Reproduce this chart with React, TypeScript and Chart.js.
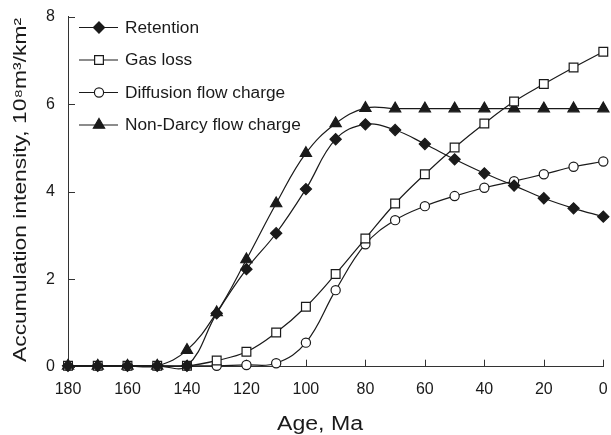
import React, { useEffect, useRef } from "react";
import { Chart, registerables } from "chart.js";

Chart.register(...registerables);

const ages = [180, 170, 160, 150, 140, 130, 120, 110, 100, 90, 80, 70, 60, 50, 40, 30, 20, 10, 0];
const retention = [0.02, 0.02, 0.02, 0.02, 0.02, 1.22, 2.23, 3.05, 4.06, 5.2, 5.54, 5.41, 5.09, 4.74, 4.42, 4.14, 3.85, 3.62, 3.43];
const gasLoss = [0.02, 0.02, 0.02, 0.02, 0.02, 0.14, 0.34, 0.78, 1.37, 2.12, 2.93, 3.73, 4.4, 5.01, 5.56, 6.06, 6.46, 6.84, 7.2];
const diffusion = [0.02, 0.02, 0.02, 0.02, 0.02, 0.02, 0.04, 0.08, 0.55, 1.75, 2.8, 3.35, 3.67, 3.9, 4.09, 4.24, 4.4, 4.57, 4.69];
const nonDarcy = [0.02, 0.02, 0.02, 0.02, 0.38, 1.24, 2.45, 3.73, 4.88, 5.56, 5.91, 5.9, 5.9, 5.9, 5.9, 5.9, 5.9, 5.9, 5.9];

const seriesNames = ["Retention", "Gas loss", "Diffusion flow charge", "Non-Darcy flow charge"];
const xTitle = "Age, Ma";
const yTitle = "Accumulation intensity, 10\u2078m\u00B3/km\u00B2";

const INK = "#1a1a1a";
const FONT = "'Liberation Sans', Arial, sans-serif";

function makeSet(label: string, values: number[], style: string, radius: number, fill: string) {
  return {
    label,
    data: ages.map((a, i) => ({ x: a, y: values[i] })),
    borderColor: INK,
    backgroundColor: fill,
    borderWidth: 1.2,
    pointStyle: style,
    pointRadius: radius,
    pointBorderWidth: 1.2,
    pointBorderColor: INK,
    pointBackgroundColor: fill,
    tension: 0.4,
    capBezierPoints: false,
    clip: false as any,
  };
}

function drawMarker(ctx: CanvasRenderingContext2D, style: string, x: number, y: number, r: number) {
  ctx.beginPath();
  if (style === "rectRot") {
    ctx.moveTo(x, y - r);
    ctx.lineTo(x + r, y);
    ctx.lineTo(x, y + r);
    ctx.lineTo(x - r, y);
    ctx.closePath();
  } else if (style === "rect") {
    const s = r * Math.SQRT1_2;
    ctx.rect(x - s, y - s, 2 * s, 2 * s);
  } else if (style === "circle") {
    ctx.arc(x, y, r, 0, Math.PI * 2);
  } else if (style === "triangle") {
    ctx.moveTo(x, y - r);
    ctx.lineTo(x + r * Math.sin(Math.PI / 3), y + r / 2);
    ctx.lineTo(x - r * Math.sin(Math.PI / 3), y + r / 2);
    ctx.closePath();
  }
  ctx.fill();
  ctx.stroke();
}

const decorPlugin = {
  id: "decor",
  beforeDatasetsDraw(chart: any) {
    const { ctx, chartArea, scales } = chart;
    const x = scales.x;
    const y = scales.y;
    ctx.save();
    ctx.strokeStyle = "#333";
    ctx.lineWidth = 1;
    ctx.beginPath();
    for (const t of y.ticks) {
      const py = Math.round(y.getPixelForValue(t.value)) + 0.5;
      ctx.moveTo(chartArea.left, py);
      ctx.lineTo(chartArea.left + 7, py);
    }
    for (const t of x.ticks) {
      const px = Math.round(x.getPixelForValue(t.value)) + 0.5;
      ctx.moveTo(px, chartArea.bottom);
      ctx.lineTo(px, chartArea.bottom - 7);
    }
    ctx.stroke();
    ctx.restore();
  },
  afterDraw(chart: any) {
    const { ctx } = chart;
    ctx.save();
    ctx.fillStyle = INK;
    ctx.font = `18px ${FONT}`;
    const wy = ctx.measureText(yTitle).width;
    ctx.translate(25.5, 190);
    ctx.rotate(-Math.PI / 2);
    ctx.scale(344 / wy, 1);
    ctx.textAlign = "center";
    ctx.textBaseline = "alphabetic";
    ctx.fillText(yTitle, 0, 0);
    ctx.restore();

    ctx.save();
    ctx.fillStyle = INK;
    ctx.font = `20px ${FONT}`;
    const wx = ctx.measureText(xTitle).width;
    ctx.translate(320, 430);
    ctx.scale(86 / wx, 1);
    ctx.textAlign = "center";
    ctx.textBaseline = "alphabetic";
    ctx.fillText(xTitle, 0, 0);
    ctx.restore();

    const rows = [27.5, 60, 92.5, 125];
    ctx.save();
    ctx.font = `16px ${FONT}`;
    const sL = 74 / ctx.measureText(seriesNames[0]).width;
    chart.data.datasets.forEach((ds: any, i: number) => {
      const ry = rows[i];
      ctx.save();
      ctx.strokeStyle = INK;
      ctx.lineWidth = 1.2;
      ctx.beginPath();
      ctx.moveTo(79, ry);
      ctx.lineTo(118, ry);
      ctx.stroke();
      ctx.fillStyle = ds.pointBackgroundColor;
      drawMarker(ctx, ds.pointStyle, 99, ry, ds.pointRadius);
      ctx.restore();
      ctx.save();
      ctx.fillStyle = INK;
      ctx.translate(125, ry);
      ctx.scale(sL, 1);
      ctx.textAlign = "left";
      ctx.textBaseline = "middle";
      ctx.fillText(ds.label, 0, 1);
      ctx.restore();
    });
    ctx.restore();
  },
};

const hiddenTicksGrid = {
  display: true,
  drawOnChartArea: false,
  drawTicks: true,
  tickLength: 13,
  tickColor: "rgba(0,0,0,0)",
  tickWidth: 0,
};

export default function App() {
  const ref = useRef<HTMLCanvasElement | null>(null);
  useEffect(() => {
    if (!ref.current) return;
    const chart = new Chart(ref.current, {
      type: "line",
      data: {
        datasets: [
          makeSet(seriesNames[0], retention, "rectRot", 5.6, INK),
          makeSet(seriesNames[1], gasLoss, "rect", 6.2, "#ffffff"),
          makeSet(seriesNames[2], diffusion, "circle", 4.6, "#ffffff"),
          makeSet(seriesNames[3], nonDarcy, "triangle", 6.5, INK),
        ] as any,
      },
      options: {
        responsive: false,
        animation: false,
        layout: { padding: { top: 16.7, right: 7.5, left: 0, bottom: 0 } },
        plugins: { legend: { display: false }, tooltip: { enabled: false } },
        scales: {
          x: {
            type: "linear",
            reverse: true,
            min: 0,
            max: 180,
            ticks: { stepSize: 20, padding: 0, color: INK, font: { family: FONT, size: 16 } },
            grid: hiddenTicksGrid as any,
            border: { display: true, color: "#333", width: 1 },
            afterFit: (s: any) => { s.height = 435 - 366.7; },
          },
          y: {
            type: "linear",
            min: 0,
            max: 8,
            ticks: { stepSize: 2, padding: 0, color: INK, font: { family: FONT, size: 16 } },
            grid: hiddenTicksGrid as any,
            border: { display: true, color: "#333", width: 1 },
            afterFit: (s: any) => { s.width = 68; },
          },
        },
      },
      plugins: [decorPlugin],
    });
    return () => chart.destroy();
  }, []);
  return (
    <div style={{ position: "fixed", left: 0, top: 0, width: 611, height: 435, background: "#fff" }}>
      <canvas ref={ref} width={611} height={435} style={{ display: "block" }} />
    </div>
  );
}
